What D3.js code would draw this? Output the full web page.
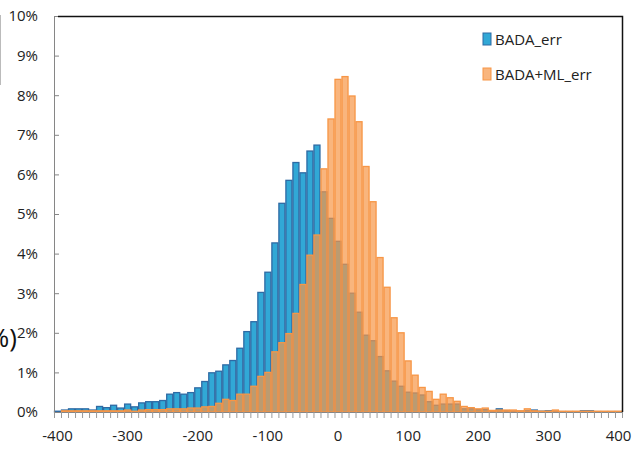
<!DOCTYPE html>
<html>
<head>
<meta charset="utf-8">
<script src="https://cdn.jsdelivr.net/npm/d3@7"></script>
<style>
  body { margin: 0; background: #fff; }
  svg { display: block; }
  .axis text { font-family: "Open Sans", sans-serif; font-size: 15px; fill: #222; }
</style>
</head>
<body>
<svg id="chart" width="635" height="454"></svg>
<script>
// bins of 10, centred on the category value
const categories = d3.range(-400, 401, 10)

// % of samples, one value per category
const badaErr = [
  0.02, 0.05, 0.08, 0.08, 0.08, 0.05, 0.14, 0.11, 0.17, 0.10,
  0.20, 0.13, 0.23, 0.26, 0.26, 0.29, 0.45, 0.49, 0.45, 0.49,
  0.61, 0.77, 0.99, 1.03, 1.19, 1.30, 1.61, 2.03, 2.28, 3.02,
  3.53, 4.27, 5.27, 5.85, 6.30, 6.04, 6.59, 6.74, 5.56, 4.89,
  4.31, 3.73, 3.00, 2.52, 1.94, 1.80, 1.40, 1.04, 0.78, 0.65,
  0.50, 0.48, 0.43, 0.26, 0.17, 0.20, 0.20, 0.20, 0.08, 0.08,
  0.06, 0.06, 0.03, 0.08, 0.03, 0.02, 0.02, 0.03, 0.05, 0.02,
  0.03, 0.02, 0.01, 0.01, 0.01, 0.03, 0.03, 0.01, 0.01, 0.01,
  0.01
]
const badaMlErr = [
  0.00, 0.03, 0.03, 0.03, 0.03, 0.03, 0.03, 0.03, 0.03, 0.03,
  0.05, 0.02, 0.05, 0.06, 0.06, 0.06, 0.08, 0.08, 0.08, 0.10,
  0.10, 0.13, 0.14, 0.22, 0.32, 0.29, 0.45, 0.45, 0.65, 0.90,
  1.00, 1.52, 1.75, 1.98, 2.49, 3.22, 3.96, 4.47, 6.14, 7.40,
  8.40, 8.47, 7.98, 7.33, 6.20, 5.31, 3.90, 3.15, 2.38, 2.00,
  1.29, 0.93, 0.62, 0.52, 0.32, 0.45, 0.36, 0.27, 0.14, 0.11,
  0.08, 0.10, 0.04, 0.05, 0.05, 0.05, 0.03, 0.08, 0.03, 0.02,
  0.02, 0.05, 0.02, 0.02, 0.02, 0.02, 0.02, 0.02, 0.02, 0.02,
  0.02
]

const xTickLabels = [-400, -300, -200, -100, 0, 100, 200, 300, 400]
const yTicks = [0, 1, 2, 3, 4, 5, 6, 7, 8, 9, 10]
const seriesNames = ['BADA_err', 'BADA+ML_err']

const plotLeft = 54
const plotRight = 622
const plotTop = 16
const plotBottom = 412

const svg = d3.select('#chart')

const x = d3.scaleBand()
  .domain(categories)
  .range([plotLeft, plotRight])
  .padding(0)

const y = d3.scaleLinear()
  .domain([0, 10])
  .range([plotBottom, plotTop])

// bars: blue first, translucent orange over it
const series = [
  { name: seriesNames[0], values: badaErr, fill: '#31a8d6', stroke: '#2e6aa4', opacity: 1 },
  { name: seriesNames[1], values: badaMlErr, fill: '#f79646', stroke: '#f79646', opacity: 0.7 }
]

series.forEach((s) => {
  svg.append('g')
    .selectAll('rect')
    .data(categories.map((c, i) => ({ c, v: s.values[i] })))
    .enter().append('rect')
    .attr('x', (d) => x(d.c) + 0.5)
    .attr('y', (d) => y(d.v))
    .attr('width', x.bandwidth() - 1)
    .attr('height', (d) => y(0) - y(d.v))
    .attr('fill', s.fill)
    .attr('fill-opacity', s.opacity)
    .attr('stroke', s.stroke)
    .attr('stroke-width', 1.3)
})

// y axis, ticks pointing inwards
const yAxis = svg.append('g')
  .attr('class', 'axis')
  .attr('transform', `translate(${plotLeft},0)`)
  .call(d3.axisLeft(y)
    .tickValues(yTicks)
    .tickSize(-5)
    .tickPadding(16)
    .tickFormat((d) => d + '%'))
yAxis.select('.domain').attr('stroke', '#868686')
yAxis.selectAll('.tick line').attr('stroke', '#868686')

// x axis: labels on category centres, ticks on every bin edge
const xAxis = svg.append('g')
  .attr('class', 'axis')
  .attr('transform', `translate(0,${plotBottom})`)
  .call(d3.axisBottom(x)
    .tickValues(xTickLabels)
    .tickSize(0)
    .tickPadding(18))
xAxis.select('.domain').attr('stroke', '#868686')

svg.append('g')
  .selectAll('line')
  .data(categories.concat([null]))
  .enter().append('line')
  .attr('x1', (d) => (d === null ? plotRight : x(d)) + 0.5)
  .attr('x2', (d) => (d === null ? plotRight : x(d)) + 0.5)
  .attr('y1', plotBottom)
  .attr('y2', plotBottom + 6)
  .attr('stroke', '#9a9a9a')

// frame top and right
svg.append('path')
  .attr('d', `M${plotLeft + 4},${plotTop + 0.5}H${plotRight + 0.5}V${plotBottom}`)
  .attr('fill', 'none')
  .attr('stroke', '#111')
  .attr('stroke-width', 1.5)

// legend
const legend = svg.append('g')
  .selectAll('g')
  .data(series)
  .enter().append('g')
  .attr('transform', (d, i) => `translate(483,${33 + i * 35})`)
legend.append('rect')
  .attr('width', 8)
  .attr('height', 12)
  .attr('fill', (d) => d.fill)
  .attr('fill-opacity', (d) => d.opacity)
  .attr('stroke', (d) => d.stroke)
legend.append('text')
  .attr('x', 12)
  .attr('y', 12)
  .style('font-family', '"Open Sans", sans-serif')
  .style('font-size', '15px')
  .style('fill', '#222')
  .text((d) => d.name)

// cropped y-axis title at the left edge, as in the reference
svg.append('text')
  .attr('x', 17)
  .attr('y', 347)
  .attr('text-anchor', 'end')
  .style('font-family', '"Open Sans", sans-serif')
  .style('font-size', '26px')
  .style('fill', '#111')
  .text('(%)')

svg.append('line')
  .attr('x1', 0.5).attr('x2', 0.5)
  .attr('y1', 15).attr('y2', 85)
  .attr('stroke', '#bbb')
</script>
</body>
</html>
